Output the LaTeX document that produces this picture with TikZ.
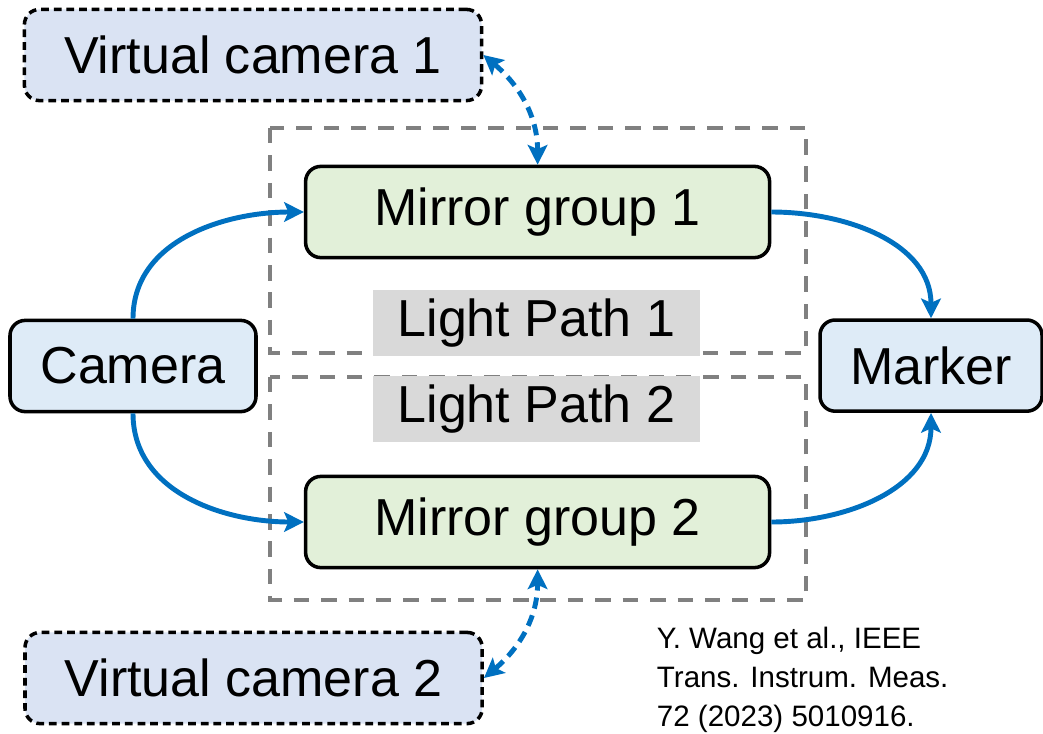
\documentclass[tikz,border=0pt]{standalone}
\usepackage{fontspec}
\setmainfont{Liberation Sans}
\usepackage{tikz}
\usetikzlibrary{arrows.meta,positioning,shapes}
\usepackage{xcolor}
\definecolor{lpblue}{RGB}{0,112,192}
\definecolor{lpgray}{RGB}{128,128,128}
\definecolor{lpshade}{RGB}{217,217,217}
\definecolor{lpcam}{RGB}{222,235,247}
\definecolor{lpvirt}{RGB}{218,227,243}
\definecolor{lpmirror}{RGB}{226,240,217}
\tikzstyle{cambox} = [rectangle, rounded corners=0.38cm, minimum height=2.28cm, text centered, draw=black, fill=lpcam, line width=2.5pt, font=\fontsize{37}{44}\selectfont]
\tikzstyle{virtbox} = [cambox, minimum width=11.43cm, fill=lpvirt, dash pattern=on 5.5pt off 3.5pt]
\tikzstyle{mirrorbox} = [cambox, minimum width=11.6cm, fill=lpmirror]
\tikzstyle{pathlabel} = [rectangle, minimum width=8.18cm, minimum height=1.65cm, fill=lpshade, text centered, font=\fontsize{37}{44}\selectfont]
\tikzstyle{pathframe} = [draw=lpgray, line width=2.8pt, dash pattern=on 11pt off 8.5pt]
\tikzstyle{arrow} = [line width=3.5pt, -{Stealth[length=14pt,width=14pt,inset=3pt]}, color=lpblue]
\tikzstyle{dasharrow} = [arrow, {Stealth[length=14pt,width=14pt,inset=3pt]}-{Stealth[length=14pt,width=14pt,inset=3pt]}, dash pattern=on 8pt off 5pt]

\begin{document}
\begin{tikzpicture}
\useasboundingbox (0,0) rectangle (26.075,-18.325);
% light path frames
\draw[pathframe] (6.75,-3.2) rectangle (20.15,-8.825);
\draw[pathframe] (6.75,-9.425) rectangle (20.15,-15.0);
\node[pathlabel] (lp1) at (13.41,-8.075) {Light Path 1};
\node[pathlabel] (lp2) at (13.41,-10.225) {Light Path 2};

% main chain
\node[cambox, minimum width=6.15cm] (cam) at (3.325,-9.15) {Camera};
\node[cambox, minimum width=5.55cm] (marker) at (23.275,-9.14) {Marker};
\node[mirrorbox] (mg1) at (13.44,-5.3) {Mirror group 1};
\node[mirrorbox] (mg2) at (13.44,-13.05) {Mirror group 2};
\node[virtbox] (vc1) at (6.325,-1.375) {Virtual camera 1};
\node[virtbox] (vc2) at (6.34,-16.95) {Virtual camera 2};

\draw[arrow] (cam.north) to[out=90, in=180] (mg1.west);
\draw[arrow] (cam.south) to[out=-90, in=180] (mg2.west);
\draw[arrow] (mg1.east) to[out=0, in=90] (marker.north);
\draw[arrow] (mg2.east) to[out=0, in=-90] (marker.south);
\draw[dasharrow] (vc1.east) to[out=-40, in=90] (mg1.north);
\draw[dasharrow] (vc2.east) to[out=40, in=-90] (mg2.south);

\node[anchor=north west, align=left, font=\fontsize{21}{27.7}\selectfont] (cite) at (16.3,-15.55) {Y. Wang et al., IEEE\\Trans. Instrum. Meas.\\72 (2023) 5010916.};
\end{tikzpicture}
\end{document}
